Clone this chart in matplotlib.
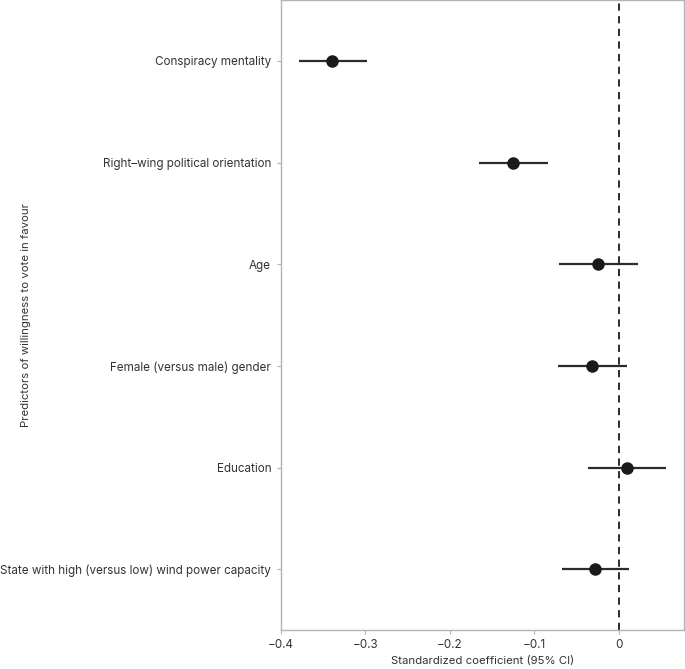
import matplotlib
matplotlib.use("Agg")
import matplotlib.pyplot as plt
import numpy as np

predictors = [
    "Conspiracy mentality",
    "Right\u2013wing political orientation",
    "Age",
    "Female (versus male) gender",
    "Education",
    "State with high (versus low) wind power capacity",
]
estimates = [-0.339, -0.125, -0.025, -0.032, 0.010, -0.028]
ci_low = [-0.378, -0.166, -0.071, -0.072, -0.037, -0.067]
ci_high = [-0.298, -0.084, 0.023, 0.010, 0.056, 0.012]

x_ticks = [-0.4, -0.3, -0.2, -0.1, 0.0]
x_tick_labels = ["\u22120.4", "\u22120.3", "\u22120.2", "\u22120.1", "0"]

plt.rcParams["font.family"] = ["Inter", "DejaVu Sans"]

fig = plt.figure(figsize=(6.85, 6.69), dpi=100)
ax = fig.add_axes([0.410, 0.058, 0.5885, 0.942])

ypos = np.arange(len(predictors))[::-1] + 1.0

ax.hlines(ypos, ci_low, ci_high, color="#2b2b2b", linewidth=1.6, zorder=2)
ax.plot(estimates, ypos, "o", color="#1a1a1a", markersize=8, zorder=3)
ax.axvline(0, color="#1a1a1a", linestyle=(0, (4, 3)), linewidth=1.3, zorder=1)

ax.set_xlim(-0.4, 0.077)
ax.set_ylim(0.4, len(predictors) + 0.6)
ax.set_yticks(ypos)
ax.set_yticklabels(predictors)
ax.set_xticks(x_ticks)
ax.set_xticklabels(x_tick_labels)

for spine in ax.spines.values():
    spine.set_color("#b3b3b3")
    spine.set_linewidth(1.0)

ax.tick_params(axis="both", colors="#b3b3b3", labelcolor="#333333",
               labelsize=8.4, length=3, width=0.8, pad=4)
ax.tick_params(axis="x", pad=3)

ax.set_xlabel("Standardized coefficient (95% CI)", fontsize=8.2, color="#333333", labelpad=4)
ax.set_ylabel("Predictors of willingness to vote in favour", fontsize=8.2, color="#333333")
ax.yaxis.set_label_coords(-0.62, 0.5)

fig.savefig("out.png", dpi=100)
